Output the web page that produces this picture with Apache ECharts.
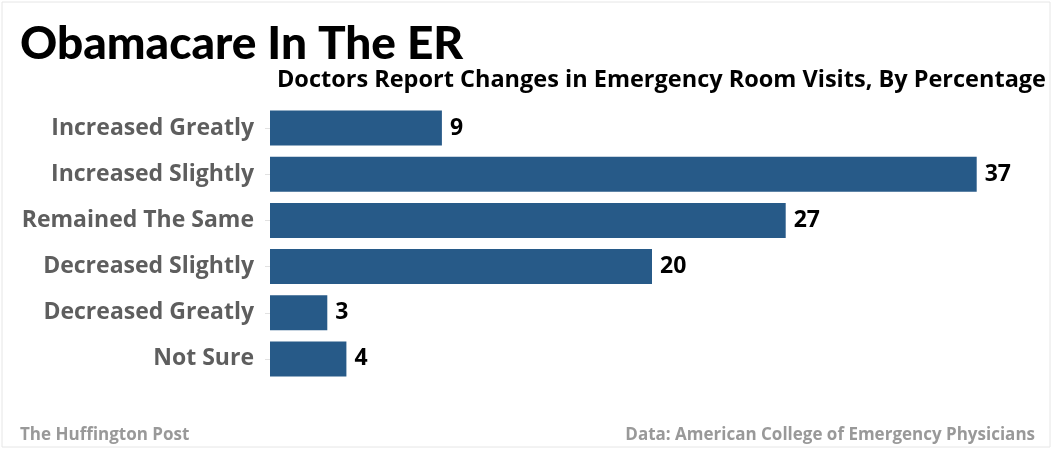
<!DOCTYPE html>
<html>
<head>
<meta charset="utf-8">
<script src="https://cdn.jsdelivr.net/npm/echarts@6/dist/echarts.min.js"></script>
<style>
html,body{margin:0;padding:0;background:#fff;}
#chart{width:1056px;height:450px;}
</style>
</head>
<body>
<div id="chart"></div>
<script>
const categories = ["Increased Greatly","Increased Slightly","Remained The Same","Decreased Slightly","Decreased Greatly","Not Sure"];
const values = [9,37,27,20,3,4];
const titleText = "Obamacare In The ER";
const subtitleText = "Doctors Report Changes in Emergency Room Visits, By Percentage";
const sourceLeft = "The Huffington Post";
const sourceRight = "Data: American College of Emergency Physicians";

const FONT = "Lato, 'Open Sans', sans-serif";
const FONT2 = "'Open Sans', Lato, sans-serif";
const chart = echarts.init(document.getElementById('chart'), null, {renderer:'canvas'});
chart.setOption({
  animation:false,
  backgroundColor:'#fff',
  grid:{left:270, width:764, top:105, height:277, containLabel:false},
  xAxis:{type:'value', min:0, max:40, show:false},
  yAxis:{
    type:'category', data:categories, inverse:true,
    axisLine:{show:false},
    axisTick:{show:true, alignWithLabel:true, length:5, lineStyle:{color:'#e2e2e2'}},
    axisLabel:{margin:16, color:'#5e5e5e', fontFamily:FONT2, fontWeight:'bold', fontSize:23, padding:[4,0,0,0]}
  },
  series:[{
    type:'bar', data:values, barWidth:35,
    itemStyle:{color:'#275a88'},
    label:{show:true, position:'right', distance:8, color:'#000', fontFamily:FONT2, fontWeight:'bold', fontSize:23, padding:[3,0,0,0]}
  }],
  graphic:[
    {type:'rect', shape:{x:2,y:2,width:1048,height:445}, style:{fill:'none', stroke:'#e6e6e6', lineWidth:1}, silent:true},
    {type:'text', x:20, y:44, style:{text:titleText, font:"900 46px "+FONT, fill:'#000', textVerticalAlign:'middle'}},
    {type:'text', x:1046, y:80, style:{text:subtitleText, font:"bold 23.5px "+FONT2, fill:'#000', textAlign:'right', textVerticalAlign:'middle'}},
    {type:'text', x:20, y:435, style:{text:sourceLeft, font:"bold 17px "+FONT2, fill:'#999', textVerticalAlign:'middle'}},
    {type:'text', x:1035, y:435, style:{text:sourceRight, font:"bold 17px "+FONT2, fill:'#999', textAlign:'right', textVerticalAlign:'middle'}}
  ]
});
</script>
</body>
</html>
